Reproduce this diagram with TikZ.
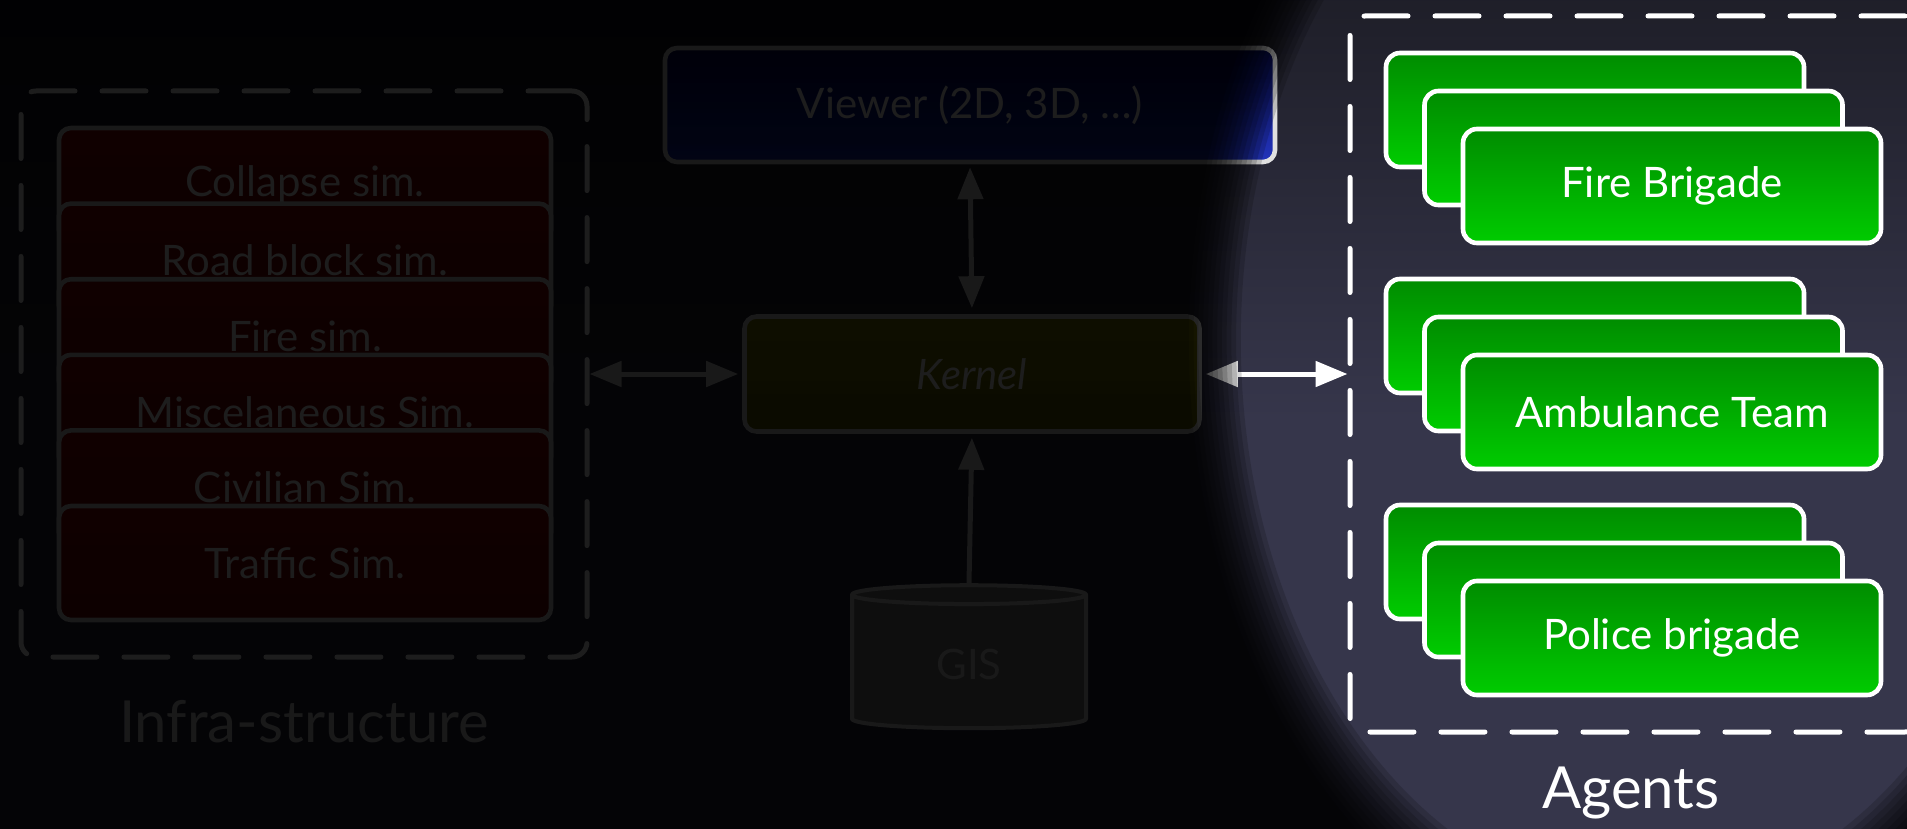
\documentclass[tikz,border=0pt]{standalone}
\usepackage{fontspec}
\setmainfont{Lato}
\usepackage{tikz}
\usetikzlibrary{arrows.meta,positioning,shapes.geometric}
\definecolor{slate}{HTML}{36364B}
\definecolor{slatetop}{HTML}{1A1A22}
\definecolor{simred}{HTML}{9A1212}
\definecolor{simredlo}{HTML}{7E0C0C}
\definecolor{viewtop}{HTML}{0A1060}
\definecolor{viewbot}{HTML}{2233BB}
\definecolor{kerntop}{HTML}{8A8A10}
\definecolor{kernbot}{HTML}{707000}
\definecolor{gisgray}{HTML}{8A8A8A}
\definecolor{edge}{HTML}{E0E0E0}
\definecolor{greentop}{HTML}{008C00}
\definecolor{greenbot}{HTML}{00CC00}
\tikzset{
    every picture/.style={line cap=round,line join=round},
    groupbox/.style={draw=white,line width=2.5pt,rounded corners=7.5pt,
      dash pattern=on 22pt off 13.5pt},
    simbox/.style={draw=edge,top color=simred,bottom color=simredlo,line width=2.3pt,
      rounded corners=6pt,minimum width=246pt,minimum height=57pt,
      text=white,font=\fontsize{21}{24}\selectfont},
    viewbox/.style={draw=edge,top color=viewtop,bottom color=viewbot,line width=2.3pt,
      rounded corners=6pt,minimum width=305pt,minimum height=57pt,
      text=white,font=\fontsize{21}{24}\selectfont},
    kernbox/.style={draw=edge,top color=kerntop,bottom color=kernbot,line width=2.3pt,
      rounded corners=6pt,minimum width=227.5pt,minimum height=57.5pt,
      text=white,font=\fontsize{21}{24}\selectfont\itshape},
    gisdb/.style={cylinder,shape border rotate=90,aspect=0.24,draw=edge,fill=gisgray,
      line width=2pt,minimum width=117pt,minimum height=71.5pt,
      text=edge,font=\fontsize{21}{24}\selectfont},
    cardbox/.style={draw=white,top color=greentop,bottom color=greenbot,line width=2.3pt,
      rounded corners=7pt,minimum width=209pt,minimum height=57pt,
      text=white,font=\fontsize{21}{24}\selectfont},
    biglabel/.style={text=edge,font=\fontsize{29}{34}\selectfont},
    flowarrow/.style={draw=edge,line width=2.5pt},
    dimlayer/.style={fill=black,fill opacity=0.162,even odd rule}
}
\begin{document}
\begin{tikzpicture}[x=0.5pt,y=-0.5pt,>={Triangle[length=16pt,width=12.5pt]}]
  \useasboundingbox[fill=slate] (0,0) rectangle (1907,829);
  \shade[top color=slatetop,bottom color=slate] (0,-80) rectangle (1907,420);
  % infrastructure: stacked simulators
  \node[groupbox,minimum width=283pt,minimum height=283pt] (infra) at (304,374) {};
  \foreach \i/\txt in {0/Collapse sim.,1/Road block sim.,2/Fire sim.,
      3/Miscelaneous Sim.,4/Civilian Sim.,5/Traffic Sim.} {
    \node[simbox] (sim\i) at (305,185+75.6*\i) {\txt};
  }
  \node[biglabel] (infralbl) at (304,722) {Infra-structure};
  % kernel and its neighbours
  \node[viewbox] (viewer) at (970,105) {Viewer (2D, 3D, \dots)};
  \node[kernbox] (kernel) at (972,374) {Kernel};
  \node[gisdb] (gis) at (969,664) {GIS};
  % agents
  \node[groupbox,minimum width=285pt,minimum height=358pt] (agents) at (1635,374) {};
  \node[biglabel,text=white] (agentslbl) at (1631,793) {Agents};
  \foreach \g/\txt/\yy in {fire/Fire Brigade/186,amb/Ambulance Team/412,pol/Police brigade/638} {
    \node[cardbox] (\g3) at (1595,\yy-76) {};
    \node[cardbox] (\g2) at (1633.5,\yy-38) {};
    \node[cardbox] (\g1) at (1672,\yy) {\txt};
  }
  % links
  \draw[flowarrow,<->,shorten >=2pt] (infra.east) -- (kernel.west);
  \draw[flowarrow,<->,shorten <=1.5pt,shorten >=3pt] (viewer.south) -- (kernel.north);
  \draw[flowarrow,->,shorten >=2pt] (gis.north) -- (kernel.south);
  \draw[flowarrow,draw=white,<->,shorten <=2pt] (kernel.east) -- (agents.west);
  % dim everything outside the spotlight, soft edge from stacked layers
  \coordinate (spot) at (1645,340);
  \foreach \k in {0,...,11} {
    \fill[dimlayer] (-40,-40) rectangle (1950,870)
      (spot) ellipse [x radius={(0.94+0.011*\k)*215pt}, y radius={(0.94+0.011*\k)*298pt}];
  }
\end{tikzpicture}
\end{document}
